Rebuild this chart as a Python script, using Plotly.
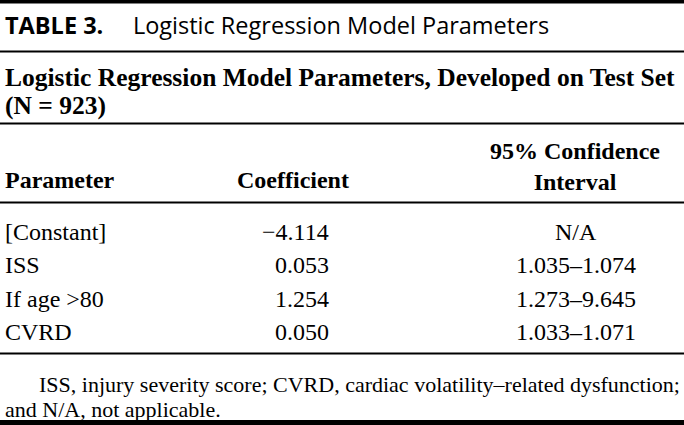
import plotly.graph_objects as go

# ---- data ----
table_label = "TABLE 3."
table_title = "Logistic Regression Model Parameters"
subtitle_lines = ["Logistic Regression Model Parameters, Developed on Test Set", "(N = 923)"]
headers = ["Parameter", "Coefficient", "95% Confidence<br>Interval"]
parameters = ["[Constant]", "ISS", "If age >80", "CVRD"]
coefficients = ["\u22124.114", "0.053", "1.254", "0.050"]
conf_intervals = ["N/A", "1.035\u20131.074", "1.273\u20139.645", "1.033\u20131.071"]
footnote_lines = ["ISS, injury severity score; CVRD, cardiac volatility\u2013related dysfunction;",
                  "and N/A, not applicable."]

W, H = 684, 425
SERIF = "Liberation Serif"
SANS = "Open Sans"

fig = go.Figure()
fig.add_trace(go.Scatter(x=[0, W], y=[0, H], mode="markers", marker=dict(opacity=0), hoverinfo="skip", showlegend=False))

ann = []
def text(x, y, s, size, family, xanchor="left", bold=False, color="black"):
    if bold:
        s = "<b>" + s + "</b>"
    ann.append(dict(x=x, y=y, text=s, showarrow=False, xanchor=xanchor, yanchor="middle",
                    font=dict(size=size, family=family, color=color), align="center" if xanchor == "center" else "left"))

# title
text(3, 25, "<b>" + table_label + "</b>\u2003 " + table_title, 23.5, SANS)
# subtitle
text(3, 77, subtitle_lines[0], 25.5, SERIF, bold=True)
text(3, 105, subtitle_lines[1], 25.5, SERIF, bold=True)
# headers
text(3, 180, headers[0], 24, SERIF, bold=True)
text(293, 180, headers[1], 24, SERIF, xanchor="center", bold=True)
text(575, 166, headers[2], 24, SERIF, xanchor="center", bold=True)
# rows
row_y = [232, 265, 299, 332]
for i, y in enumerate(row_y):
    text(3, y, parameters[i], 24, SERIF)
    text(331, y, coefficients[i], 24, SERIF, xanchor="right")
    text(576, y, conf_intervals[i], 24, SERIF, xanchor="center")
# footnote
text(37, 384, footnote_lines[0], 22, SERIF)
text(3, 409, footnote_lines[1], 22, SERIF)

shapes = []
def hline(y, w, color="black"):
    shapes.append(dict(type="line", x0=0, x1=W, y0=y, y1=y, line=dict(color=color, width=w), xref="x", yref="y"))

hline(1.5, 4)
hline(51.5, 2)
hline(123.5, 2)
hline(202.5, 2)
hline(353.5, 2)
hline(422.5, 5)

fig.update_layout(
    width=W, height=H, margin=dict(l=0, r=0, t=0, b=0),
    paper_bgcolor="white", plot_bgcolor="white",
    xaxis=dict(range=[0, W], visible=False, fixedrange=True),
    yaxis=dict(range=[H, 0], visible=False, fixedrange=True),
    annotations=ann, shapes=shapes, showlegend=False,
)
fig.write_html("out.html", config={"displayModeBar": False},
               post_script="document.body.style.margin='0';document.body.style.overflow='hidden';")
